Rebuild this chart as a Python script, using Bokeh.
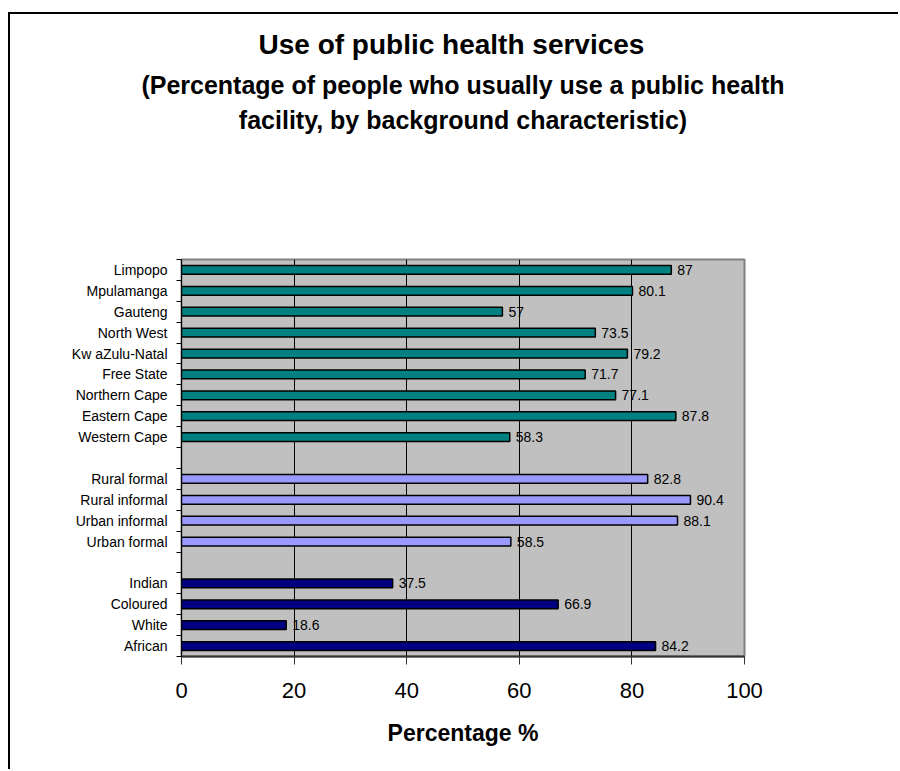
from bokeh.plotting import figure
from bokeh.models import Range1d, FixedTicker, Title, ColumnDataSource
from bokeh.core.properties import value
from bokeh.embed import file_html
from bokeh.resources import INLINE

# ---- data (top to bottom as shown) ----
provinces = ["Limpopo", "Mpulamanga", "Gauteng", "North West", "Kw aZulu-Natal",
             "Free State", "Northern Cape", "Eastern Cape", "Western Cape"]
province_values = [87, 80.1, 57, 73.5, 79.2, 71.7, 77.1, 87.8, 58.3]

settlements = ["Rural formal", "Rural informal", "Urban informal", "Urban formal"]
settlement_values = [82.8, 90.4, 88.1, 58.5]

races = ["Indian", "Coloured", "White", "African"]
race_values = [37.5, 66.9, 18.6, 84.2]

x_ticks = [0, 20, 40, 60, 80, 100]

title_text = "Use of public health services"
subtitle_1 = "(Percentage of people who usually use a public health"
subtitle_2 = "facility, by background characteristic)"
x_label = "Percentage %"

groups = [
    (provinces, province_values, "#008080"),
    (settlements, settlement_values, "#9999FF"),
    (races, race_values, "#000080"),
]

# slots from the top, with one empty slot between groups
n_slots = sum(len(g[0]) for g in groups) + len(groups) - 1
names, vals, cols, ys = [], [], [], []
k = 0
for gi, (nm, vv, c) in enumerate(groups):
    for n, v in zip(nm, vv):
        names.append(n)
        vals.append(v)
        cols.append(c)
        ys.append(n_slots - k - 0.5)
        k += 1
    k += 1

src = ColumnDataSource(dict(name=names, val=vals, color=cols, y=ys,
                            lbl=[f"{v:g}" for v in vals]))

FONT = "Liberation Sans"

p = figure(width=890, height=757,
           x_range=Range1d(0, 100), y_range=Range1d(0, n_slots),
           output_backend="svg", toolbar_location=None,
           min_border_left=171, min_border_right=156,
           min_border_top=245, min_border_bottom=115)
p.margin = (12, 0, 0, 8)
p.styles = {"border-left": "2px solid black", "border-top": "2px solid black"}

p.background_fill_color = "#C0C0C0"
p.border_fill_color = "white"
p.outline_line_color = "#808080"
p.outline_line_width = 2

p.hbar(y="y", right="val", left=0, height=0.42, source=src,
       fill_color="color", line_color="black", line_width=1.5)

p.text(x="val", y="y", text="lbl", source=src, x_offset=6,
       text_font=value(FONT), text_font_size="14px", text_color="black",
       text_align="left", text_baseline="middle")

# grid
p.ygrid.visible = False
p.xgrid.ticker = FixedTicker(ticks=[t for t in x_ticks if 0 < t < 100])
p.xgrid.grid_line_color = "black"
p.xgrid.grid_line_width = 1

# x axis
xa = p.xaxis[0]
xa.ticker = FixedTicker(ticks=x_ticks, minor_ticks=[])
xa.axis_line_color = "#333333"
xa.axis_line_width = 2
xa.major_tick_line_color = "#333333"
xa.major_tick_out = 8
xa.major_tick_in = 0
xa.minor_tick_out = 0
xa.major_label_text_font = FONT
xa.major_label_text_font_size = "22px"
xa.major_label_text_color = "black"
xa.major_label_standoff = 18
xa.axis_label = x_label
xa.axis_label_text_font = FONT
xa.axis_label_text_font_style = "bold"
xa.axis_label_text_font_size = "23px"
xa.axis_label_text_color = "black"
xa.axis_label_standoff = 19

# y axis: labels at slot centres, ticks at slot boundaries
ya = p.yaxis[0]
ya.ticker = FixedTicker(ticks=ys, minor_ticks=list(range(0, n_slots + 1)))
ya.major_label_overrides = {y: n for y, n in zip(ys, names)}
ya.axis_line_color = "black"
ya.axis_line_width = 1
ya.major_tick_out = 0
ya.major_tick_in = 0
ya.minor_tick_out = 5
ya.minor_tick_in = 0
ya.minor_tick_line_color = "black"
ya.major_label_text_font = FONT
ya.major_label_text_font_size = "14px"
ya.major_label_text_color = "black"
ya.major_label_standoff = 9

# titles: innermost first (a blank spacer sits between the titles and the plot)
p.add_layout(Title(text=" ", standoff=110, text_font=FONT,
                   text_font_size="10px"), "above")
for txt, size, stand, al, off in [(subtitle_2, "25px", 5, "center", 0),
                                  (subtitle_1, "25px", 5, "center", 0),
                                  (title_text, "28px", 13, "left", 77)]:
    p.add_layout(Title(text=txt, align=al, offset=off, standoff=stand,
                       text_font=FONT, text_font_style="bold",
                       text_font_size=size, text_color="black"), "above")

open("out.html", "w").write(file_html(p, INLINE))
